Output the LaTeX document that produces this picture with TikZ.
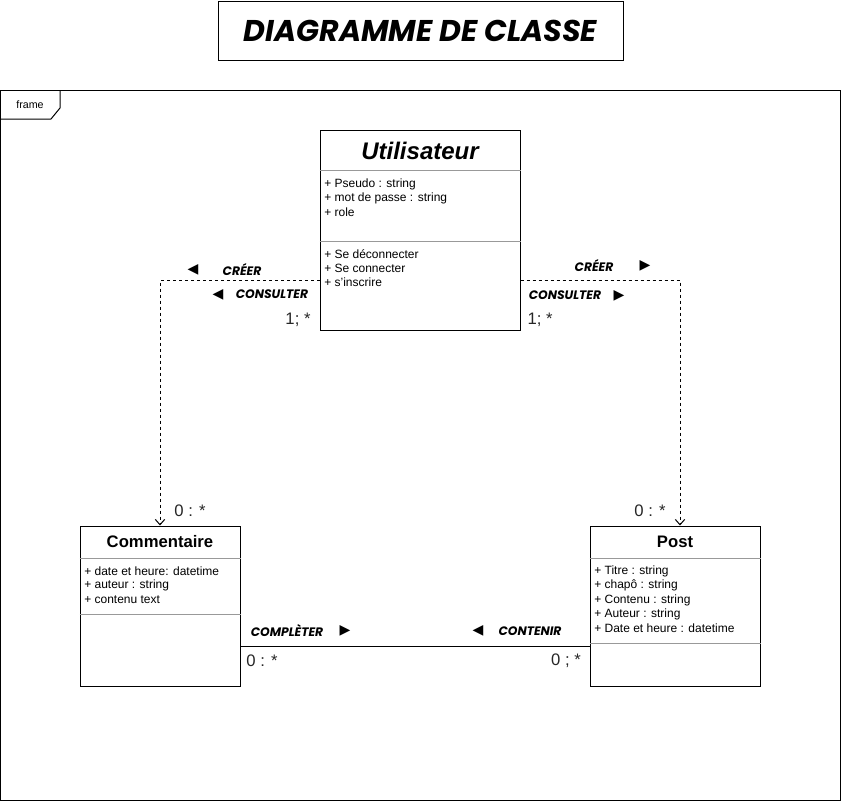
\documentclass[tikz,border=0pt]{standalone}
\usepackage{fontspec}
\setmainfont{Liberation Sans}
\newfontfamily\titlefont{Poppins}
\newfontfamily\symfont{DejaVu Sans}
\usetikzlibrary{arrows.meta,calc}
\tikzset{
  boxline/.style={draw=black, line width=0.75pt},
  classbox/.style={boxline, inner sep=0pt},
  divider/.style={draw=black!40, line width=0.75pt},
  attr/.style={anchor=west, inner sep=0pt, font=\fontsize{9}{10}\selectfont},
  clsname/.style={inner sep=0pt, font=\fontsize{12.5}{15}\selectfont\bfseries},
  hand/.style={inner sep=0pt, font=\titlefont\fontsize{9.2}{11}\selectfont\bfseries\itshape},
  tri/.style={inner sep=0pt, font=\symfont\fontsize{10.5}{12}\selectfont},
  mult/.style={inner sep=0pt, font=\fontsize{12.5}{14}\selectfont, text=black!85},
  dep/.style={line width=0.75pt, dash pattern=on 2.25pt off 2.25pt, -{Straight Barb[length=4pt,width=7pt]}},
  assoc/.style={line width=0.75pt},
}
\begin{document}
\begin{tikzpicture}[x=0.75pt,y=-0.75pt]
\useasboundingbox (0,0) rectangle (841,801);
% title
\node (title) [boxline, minimum width=303.75pt, minimum height=44.25pt, inner sep=0pt,
  font=\titlefont\fontsize{22.5}{26}\selectfont\bfseries\itshape] at (420.5,30.5) {DIAGRAMME DE CLASSE};
% frame
\draw[boxline] (0.5,90.5) rectangle (840,800);
\draw[boxline] (0.5,119) -- (51,119) -- (60,108) -- (60,90.5);
\node (framelbl) [inner sep=0pt, font=\fontsize{8}{9}\selectfont] at (30,105) {frame};
% Utilisateur
\node (u) [classbox, minimum width=150pt, minimum height=150pt] at (420,230) {};
\node (uname) [clsname, font=\fontsize{18}{20}\selectfont\bfseries\itshape] at (420,151) {Utilisateur};
\draw[divider] (u.west |- 0,170) -- (u.east |- 0,170);
\draw[divider] (u.west |- 0,241) -- (u.east |- 0,241);
\node (ua1) [attr] at (324,184) {+ Pseudo : string};
\node (ua2) [attr] at (324,198) {+ mot de passe : string};
\node (ua3) [attr] at (324,212) {+ role};
\node (um1) [attr] at (324,254) {+ Se déconnecter};
\node (um2) [attr] at (324,268) {+ Se connecter};
\node (um3) [attr] at (324,282) {+ s'inscrire};
% Commentaire
\node (c) [classbox, minimum width=120pt, minimum height=120pt] at (160,606) {};
\node (cname) [clsname] at (160,542) {Commentaire};
\draw[divider] (c.west |- 0,558) -- (c.east |- 0,558);
\draw[divider] (c.west |- 0,614) -- (c.east |- 0,614);
\node (ca1) [attr] at (84,571) {+ date et heure: datetime};
\node (ca2) [attr] at (84,585) {+ auteur : string};
\node (ca3) [attr] at (84,600) {+ contenu text};
% Post
\node (p) [classbox, minimum width=127.5pt, minimum height=120pt] at (675,606) {};
\node (pname) [clsname] at (675,542) {Post};
\draw[divider] (p.west |- 0,558) -- (p.east |- 0,558);
\draw[divider] (p.west |- 0,643) -- (p.east |- 0,643);
\node (pa1) [attr] at (594,571) {+ Titre : string};
\node (pa2) [attr] at (594,585) {+ chapô : string};
\node (pa3) [attr] at (594,600) {+ Contenu : string};
\node (pa4) [attr] at (594,614) {+ Auteur : string};
\node (pa5) [attr] at (594,628) {+ Date et heure : datetime};
% connectors
\coordinate (ptop) at ($(p.north)+(5,0)$);
\draw[dep] (u.west |- 0,280) -| (c.north);
\draw[dep] (u.east |- 0,280) -| (ptop);
\draw[assoc] (c.east |- 0,646) -- (p.west |- 0,646);
% labels left
\node (t1) [tri] at (193,270) {◀};
\node (l1) [hand] at (242,270) {CRÉER};
\node (t2) [tri] at (218,295) {◀};
\node (l2) [hand] at (272,294) {CONSULTER};
\node (m1) [mult] at (298,320) {1; *};
% labels right
\node (l3) [hand] at (594,266) {CRÉER};
\node (t3) [tri] at (645,266) {▶};
\node (l4) [hand] at (565,295) {CONSULTER};
\node (t4) [tri] at (619,296) {▶};
\node (m2) [mult] at (540,320) {1; *};
\node (m3) [mult] at (190,511) {0 : *};
\node (m4) [mult] at (650,511) {0 : *};
% labels bottom
\node (l5) [hand] at (287,631) {COMPLÈTER};
\node (t5) [tri] at (345,631) {▶};
\node (t6) [tri] at (478,631) {◀};
\node (l6) [hand] at (530,631) {CONTENIR};
\node (m5) [mult] at (262,661) {0 : *};
\node (m6) [mult] at (566,661) {0 ; *};
\end{tikzpicture}
\end{document}
